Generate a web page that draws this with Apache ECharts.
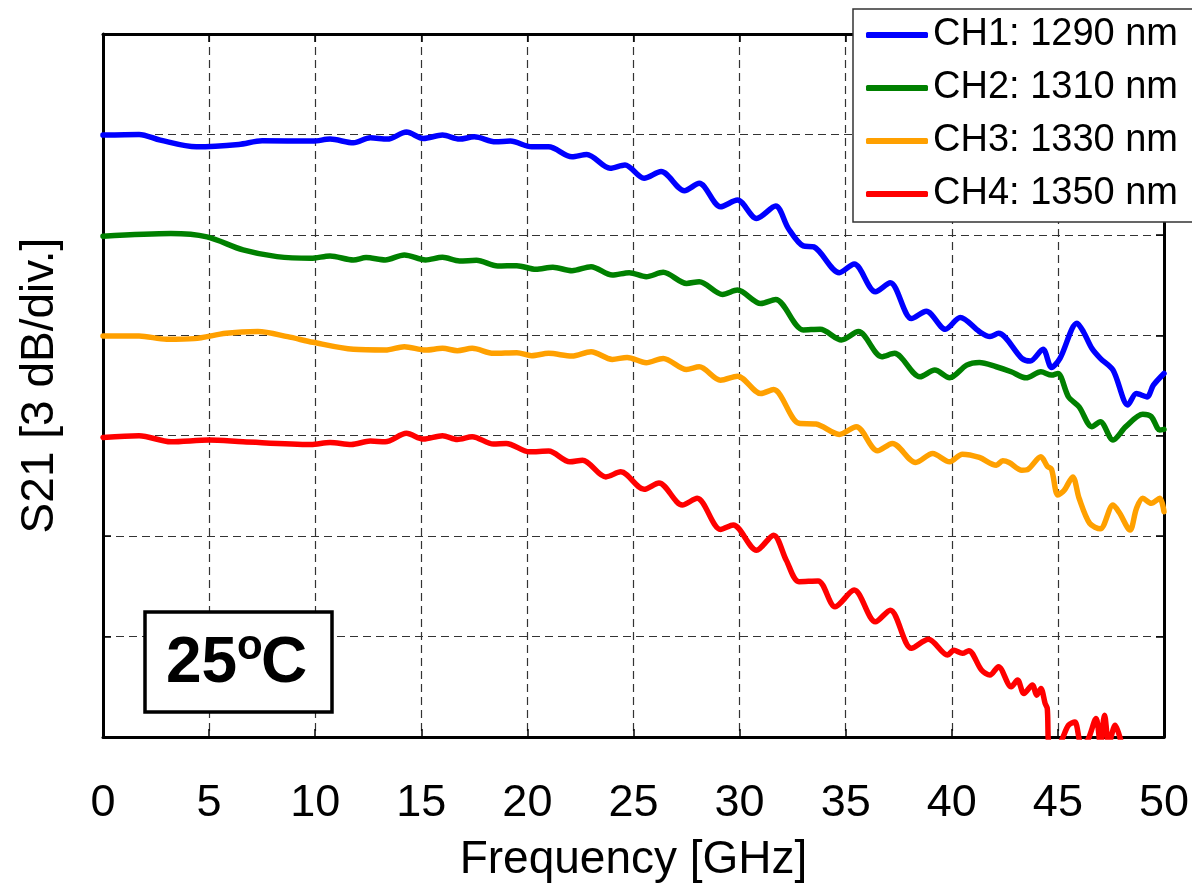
<!DOCTYPE html>
<html>
<head>
<meta charset="utf-8">
<title>S21 vs frequency</title>
<script src="https://cdn.jsdelivr.net/npm/echarts@6/dist/echarts.min.js"></script>
<style>
    html, body { margin: 0; padding: 0; background: #fff; overflow: hidden; }
    #chartmain { width: 1192px; height: 888px; }
</style>
</head>
<body>
<div id="chartmain"></div>
<script>
// values, dB (3 dB per division, top of frame = 0)
var seriesNames = ['CH1: 1290 nm', 'CH2: 1310 nm', 'CH3: 1330 nm', 'CH4: 1350 nm'];
var colors = ['#0000FF', '#008000', '#FFA000', '#FF0000'];
var xTicks = [0, 5, 10, 15, 20, 25, 30, 35, 40, 45, 50];

var ch1Freq = [0, 1.7, 2.7, 4.4, 6.4, 7.5, 9.9, 10.7, 11.8, 12.6, 13.4, 14.3, 15.1, 16.0, 16.8, 17.5, 18.5, 19.2, 20.2, 21.0,
    22.1, 22.8, 23.9, 24.6, 25.5, 26.3, 27.4, 28.1, 29.1, 29.9, 30.8, 31.7, 32.3, 33.0, 33.5, 34.7, 35.4, 36.4, 37.1, 38.1,
    38.8, 39.7, 40.4, 41.3, 41.8, 42.2, 43.3, 43.7, 44.3, 44.7, 45.1, 45.9, 46.2, 46.6, 47.0, 47.6, 48.3, 48.7, 49.2, 49.5, 50.0];
var ch1Db = [-3.02, -3.00, -3.17, -3.37, -3.30, -3.19, -3.20, -3.14, -3.25, -3.10, -3.14, -2.93, -3.12, -3.02, -3.14, -3.07, -3.22, -3.20, -3.37, -3.37,
    -3.67, -3.60, -4.01, -3.91, -4.31, -4.11, -4.68, -4.46, -5.16, -4.96, -5.51, -5.14, -5.81, -6.33, -6.36, -7.13, -6.87, -7.70, -7.43, -8.50,
    -8.28, -8.82, -8.47, -8.89, -9.04, -8.94, -9.69, -9.77, -9.42, -9.96, -9.69, -8.64, -8.89, -9.39, -9.69, -10.04, -11.08, -10.74, -10.84, -10.49, -10.14];

var ch2Freq = [0, 3.2, 4.9, 6.6, 8.2, 9.8, 10.7, 11.8, 12.4, 13.3, 14.2, 15.2, 16.0, 16.8, 17.6, 18.6, 19.5, 20.4, 21.2, 22.1,
    23.0, 24.0, 24.8, 25.6, 26.4, 27.5, 28.1, 29.2, 29.9, 31.0, 31.7, 33.0, 33.8, 34.8, 35.6, 36.7, 37.3, 38.5, 39.2, 39.9,
    40.7, 41.3, 42.1, 42.8, 43.5, 44.2, 44.7, 45.0, 45.5, 46.0, 46.6, 47.0, 47.6, 48.2, 49.0, 49.4, 49.8, 50.0];
var ch2Db = [-6.04, -5.96, -6.06, -6.45, -6.65, -6.70, -6.63, -6.75, -6.68, -6.75, -6.60, -6.75, -6.67, -6.78, -6.76, -6.93, -6.92, -7.03, -6.97, -7.07,
    -6.95, -7.20, -7.13, -7.25, -7.12, -7.45, -7.40, -7.78, -7.65, -8.05, -7.93, -8.84, -8.82, -9.14, -8.89, -9.64, -9.54, -10.24, -10.04, -10.27,
    -9.89, -9.81, -9.94, -10.09, -10.27, -10.09, -10.19, -10.14, -10.84, -11.14, -11.73, -11.58, -12.13, -11.73, -11.36, -11.43, -11.83, -11.81];

var ch3Freq = [0, 1.7, 3.0, 4.3, 5.8, 7.3, 8.7, 9.9, 11.8, 13.3, 14.2, 15.2, 16.0, 16.7, 17.4, 18.4, 19.5, 20.2, 21.0, 22.1,
    23.0, 24.0, 24.7, 25.6, 26.4, 27.5, 28.1, 29.1, 29.9, 31.0, 31.6, 32.8, 33.6, 34.7, 35.5, 36.5, 37.2, 38.3, 39.1, 39.9,
    40.5, 41.3, 42.1, 42.4, 42.7, 43.3, 43.6, 44.2, 44.5, 44.7, 45.0, 45.3, 45.7, 46.0, 46.5, 47.0, 47.6, 47.9, 48.4, 48.7,
    49.0, 49.4, 49.8, 50.0];
var ch3Db = [-9.02, -9.02, -9.12, -9.10, -8.94, -8.89, -9.04, -9.21, -9.42, -9.44, -9.34, -9.44, -9.39, -9.46, -9.39, -9.54, -9.52, -9.61, -9.54, -9.62,
    -9.49, -9.72, -9.66, -9.82, -9.69, -10.02, -9.94, -10.34, -10.22, -10.74, -10.62, -11.63, -11.65, -11.96, -11.73, -12.45, -12.23, -12.80, -12.53, -12.78,
    -12.55, -12.65, -12.88, -12.75, -12.80, -13.03, -13.00, -12.63, -12.91, -13.00, -13.77, -13.63, -13.23, -13.87, -14.62, -14.78, -14.07, -14.30, -14.82, -14.18,
    -13.87, -14.02, -13.87, -14.27];

var ch4Freq = [0, 1.7, 3.2, 5.0, 6.6, 9.8, 10.7, 11.7, 12.6, 13.3, 14.3, 15.1, 16.0, 16.7, 17.4, 18.4, 19.0, 20.1, 21.0, 22.0,
    22.6, 23.7, 24.4, 25.5, 26.2, 27.3, 28.0, 29.1, 29.7, 30.8, 31.6, 32.2, 32.8, 33.7, 34.5, 35.4, 36.4, 37.1, 38.1, 38.9,
    39.8, 40.1, 40.5, 40.8, 41.4, 41.8, 42.2, 42.8, 43.1, 43.4, 43.8, 44.0, 44.2, 44.4, 44.5, 44.6, 45.0, 45.5, 45.8, 46.1,
    46.4, 46.8, 47.0, 47.2, 47.4, 47.7, 48.0];
var ch4Db = [-12.05, -12.00, -12.18, -12.13, -12.18, -12.26, -12.20, -12.26, -12.16, -12.18, -11.93, -12.10, -12.00, -12.11, -12.03, -12.25, -12.23, -12.48, -12.46, -12.78,
    -12.73, -13.23, -13.08, -13.60, -13.41, -14.07, -13.87, -14.80, -14.67, -15.42, -14.97, -15.72, -16.36, -16.34, -17.11, -16.61, -17.56, -17.21, -18.35, -18.08,
    -18.55, -18.41, -18.50, -18.42, -19.00, -19.15, -18.90, -19.50, -19.30, -19.70, -19.45, -19.75, -19.55, -20.00, -20.15, -21.20, -21.20, -20.65, -20.55, -21.20,
    -21.10, -20.45, -21.20, -20.35, -21.20, -20.65, -21.20];

var FONT = '"Liberation Sans", Arial, sans-serif';

function pairs(xs, ys) {
    var out = [];
    for (var i = 0; i < xs.length; i++) {
        out.push([xs[i], ys[i]]);
    }
    return out;
}

var allFreq = [ch1Freq, ch2Freq, ch3Freq, ch4Freq];
var allDb = [ch1Db, ch2Db, ch3Db, ch4Db];

var series = [];
for (var i = 0; i < seriesNames.length; i++) {
    series.push({
        name: seriesNames[i],
        type: 'line',
        symbol: 'none',
        smooth: 0.3,
        clip: true,
        data: pairs(allFreq[i], allDb[i]),
        lineStyle: { color: colors[i], width: 5.5, cap: 'round', join: 'round' },
        itemStyle: { color: colors[i] },
        z: 3
    });
}

var gridLine = { show: true, lineStyle: { color: '#333', width: 1.2, type: [8, 5] } };
var frameLine = { show: true, onZero: false, lineStyle: { color: '#000', width: 3 } };
var tickIn = { show: true, inside: true, length: 8, lineStyle: { color: '#000', width: 1.5 } };

var option = {
    animation: false,
    color: colors,
    textStyle: { fontFamily: FONT },
    grid: { left: 103, top: 34, right: 27, bottom: 151, show: false },
    legend: {
        orient: 'vertical',
        left: 853,
        top: 9,
        padding: [6, 10, 7, 13],
        itemGap: 13,
        itemWidth: 62,
        itemHeight: 6,
        icon: 'roundRect',
        borderWidth: 0,
        data: seriesNames,
        textStyle: { fontFamily: FONT, fontSize: 38, color: '#000', lineHeight: 40 },
        z: 12
    },
    xAxis: [
        {
            type: 'value',
            min: 0,
            max: 50,
            interval: 5,
            position: 'bottom',
            name: 'Frequency [GHz]',
            nameLocation: 'middle',
            nameGap: 100,
            nameTextStyle: { fontFamily: FONT, fontSize: 46, color: '#000' },
            axisLine: frameLine,
            axisTick: tickIn,
            axisLabel: {
                margin: 44,
                fontFamily: FONT,
                fontSize: 45,
                color: '#000',
                formatter: function (v) { return xTicks.indexOf(v) >= 0 ? String(v) : ''; }
            },
            splitLine: gridLine
        },
        {
            type: 'value',
            min: 0,
            max: 50,
            interval: 5,
            position: 'top',
            axisLine: frameLine,
            axisTick: tickIn,
            axisLabel: { show: false },
            splitLine: { show: false }
        }
    ],
    yAxis: [
        {
            type: 'value',
            min: -21,
            max: 0,
            interval: 3,
            position: 'left',
            name: 'S21 [3 dB/div.]',
            nameLocation: 'middle',
            nameGap: 40,
            nameTextStyle: { fontFamily: FONT, fontSize: 46, color: '#000' },
            axisLine: frameLine,
            axisTick: tickIn,
            axisLabel: { show: false },
            splitLine: gridLine
        },
        {
            type: 'value',
            min: -21,
            max: 0,
            interval: 3,
            position: 'right',
            axisLine: frameLine,
            axisTick: tickIn,
            axisLabel: { show: false },
            splitLine: { show: false }
        }
    ],
    graphic: [
        // legend frame runs off the right edge like in the original
        {
            type: 'polyline',
            z: 11,
            shape: { points: [[1300, 9], [853, 9], [853, 222], [1300, 222]] },
            style: { fill: '#fff', stroke: '#333', lineWidth: 1.5 }
        },
        {
            type: 'rect',
            z: 20,
            shape: { x: 145, y: 612, width: 187, height: 100 },
            style: { fill: '#fff', stroke: '#000', lineWidth: 3.5 }
        },
        {
            type: 'text',
            z: 21,
            x: 166,
            y: 664,
            style: { text: '25', font: 'bold 64px ' + FONT, fill: '#000', textAlign: 'left', textVerticalAlign: 'middle' }
        },
        {
            type: 'text',
            z: 21,
            x: 237,
            y: 647,
            style: { text: 'o', font: 'bold 42px ' + FONT, fill: '#000', textAlign: 'left', textVerticalAlign: 'middle' }
        },
        {
            type: 'text',
            z: 21,
            x: 261,
            y: 664,
            style: { text: 'C', font: 'bold 64px ' + FONT, fill: '#000', textAlign: 'left', textVerticalAlign: 'middle' }
        }
    ],
    series: series
};

//初始化echarts实例
var myChart = echarts.init(document.getElementById('chartmain'));
myChart.setOption(option);
</script>
</body>
</html>
